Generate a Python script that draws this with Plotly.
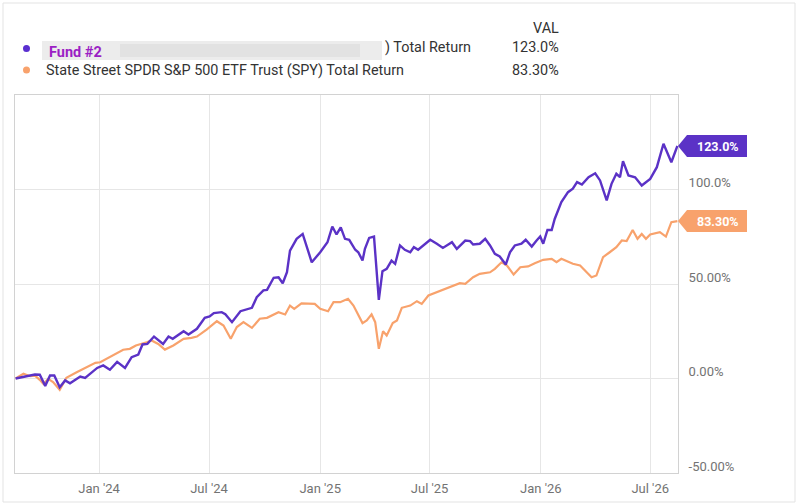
import plotly.graph_objects as go

# fund #2 total return (%)
fund_dates = [
    "2023-08-16", "2023-09-01", "2023-09-17", "2023-09-25", "2023-10-04", "2023-10-12",
    "2023-10-19", "2023-10-28", "2023-11-06", "2023-11-14", "2023-12-01", "2023-12-09",
    "2023-12-29", "2024-01-08", "2024-01-19", "2024-01-31", "2024-02-13", "2024-02-24",
    "2024-03-06", "2024-03-13", "2024-03-21", "2024-04-01", "2024-04-16", "2024-04-25",
    "2024-05-02", "2024-05-20", "2024-05-28", "2024-06-11", "2024-06-24", "2024-07-02",
    "2024-07-09", "2024-07-22", "2024-07-28", "2024-08-08", "2024-08-22", "2024-09-10",
    "2024-09-18", "2024-09-29", "2024-10-05", "2024-10-16", "2024-10-24", "2024-10-31",
    "2024-11-07", "2024-11-12", "2024-11-23", "2024-12-03", "2024-12-18", "2025-01-01",
    "2025-01-13", "2025-01-21", "2025-01-28", "2025-02-04", "2025-02-11", "2025-02-18",
    "2025-02-28", "2025-03-05", "2025-03-12", "2025-03-16", "2025-03-23", "2025-03-31",
    "2025-04-08", "2025-04-14", "2025-04-21", "2025-04-29", "2025-05-05", "2025-05-13",
    "2025-05-21", "2025-05-30", "2025-06-05", "2025-06-12", "2025-07-02", "2025-07-13",
    "2025-07-23", "2025-08-07", "2025-08-15", "2025-08-29", "2025-09-06", "2025-09-11",
    "2025-09-22", "2025-10-01", "2025-10-09", "2025-10-17", "2025-10-25", "2025-11-04",
    "2025-11-11", "2025-11-19", "2025-11-30", "2025-12-07", "2025-12-17", "2025-12-25",
    "2025-12-31", "2026-01-05", "2026-01-12", "2026-01-19", "2026-01-24", "2026-02-04",
    "2026-02-15", "2026-02-23", "2026-03-02", "2026-03-10", "2026-03-21", "2026-04-01",
    "2026-04-09", "2026-04-20", "2026-04-28", "2026-05-06", "2026-05-12", "2026-05-17",
    "2026-05-26", "2026-06-06", "2026-06-17", "2026-07-01", "2026-07-12", "2026-07-23",
    "2026-07-29", "2026-08-05", "2026-08-15",
]
fund_ret = [
    0.0, 1.2, 2.1, 2.0, -3.9, 1.6,
    1.6, -4.6, -1.0, -2.5, 1.0, 0.3,
    5.6, 6.9, 4.6, 8.8, 5.6, 11.3,
    12.7, 18.0, 18.3, 22.2, 18.3, 22.2,
    21.0, 25.0, 23.3, 26.3, 32.1, 32.8,
    34.6, 35.1, 34.0, 29.8, 35.6, 37.4,
    43.0, 46.6, 46.9, 53.3, 53.6, 50.4,
    56.2, 67.7, 73.9, 76.5, 61.5, 66.8,
    72.1, 80.4, 76.2, 80.0, 73.9, 73.4,
    68.1, 66.8, 62.4, 68.6, 74.4, 75.1,
    41.6, 56.8, 58.0, 62.4, 60.7, 70.4,
    68.1, 66.8, 69.5, 68.1, 73.4, 71.3,
    69.1, 72.1, 68.6, 73.0, 72.7, 70.9,
    71.3, 73.9, 70.4, 66.0, 64.6, 60.3,
    66.8, 70.4, 71.3, 73.4, 69.8, 73.0,
    75.1, 71.3, 78.6, 78.6, 84.4, 93.3,
    98.6, 100.4, 103.9, 102.6, 106.5, 108.6,
    104.8, 94.2, 103.0, 108.3, 106.5, 115.0,
    107.4, 106.5, 102.1, 105.6, 111.8, 124.2,
    119.2, 114.4, 123.0,
]

# SPY total return (%)
spy_dates = [
    "2023-08-16", "2023-08-29", "2023-09-09", "2023-09-17", "2023-09-25", "2023-10-01",
    "2023-10-09", "2023-10-17", "2023-10-28", "2023-11-08", "2023-11-25", "2023-12-12",
    "2023-12-26", "2024-01-03", "2024-01-14", "2024-01-30", "2024-02-10", "2024-02-21",
    "2024-03-02", "2024-03-20", "2024-03-28", "2024-04-08", "2024-04-19", "2024-05-03",
    "2024-05-20", "2024-06-02", "2024-06-11", "2024-06-27", "2024-07-14", "2024-07-25",
    "2024-08-06", "2024-08-16", "2024-08-27", "2024-09-10", "2024-09-23", "2024-10-05",
    "2024-10-24", "2024-11-04", "2024-11-12", "2024-11-19", "2024-12-01", "2024-12-23",
    "2025-01-01", "2025-01-14", "2025-01-23", "2025-02-03", "2025-02-16", "2025-02-25",
    "2025-03-12", "2025-03-19", "2025-03-27", "2025-04-02", "2025-04-08", "2025-04-15",
    "2025-04-21", "2025-05-01", "2025-05-08", "2025-05-16", "2025-05-30", "2025-06-10",
    "2025-06-18", "2025-06-29", "2025-07-13", "2025-07-23", "2025-08-04", "2025-08-20",
    "2025-08-29", "2025-09-11", "2025-09-22", "2025-10-09", "2025-10-17", "2025-10-28",
    "2025-11-06", "2025-11-17", "2025-11-28", "2025-12-11", "2025-12-22", "2026-01-05",
    "2026-01-19", "2026-01-27", "2026-02-04", "2026-02-13", "2026-02-23", "2026-03-07",
    "2026-03-18", "2026-03-26", "2026-04-03", "2026-04-14", "2026-04-25", "2026-05-06",
    "2026-05-15", "2026-05-23", "2026-06-02", "2026-06-10", "2026-06-17", "2026-06-24",
    "2026-07-01", "2026-07-17", "2026-07-27", "2026-08-05", "2026-08-15",
]
spy_ret = [
    0.0, 2.5, 1.2, 1.5, -0.7, -2.9,
    -0.2, -1.9, -6.0, 0.4, 3.3, 6.0,
    8.3, 8.6, 10.4, 13.0, 15.2, 15.7,
    17.5, 19.2, 20.1, 18.3, 15.3, 17.5,
    21.0, 21.5, 22.2, 25.9, 30.3, 28.0,
    21.0, 27.2, 29.8, 26.8, 31.6, 32.1,
    35.1, 33.9, 38.6, 36.9, 39.8, 39.5,
    36.9, 35.6, 40.4, 40.4, 42.2, 38.6,
    29.3, 30.7, 33.9, 29.8, 15.7, 25.0,
    22.8, 29.3, 30.7, 37.4, 38.6, 40.9,
    39.5, 43.9, 45.7, 46.9, 48.7, 50.4,
    50.1, 53.6, 55.4, 56.2, 58.0, 61.5,
    59.8, 55.0, 58.9, 59.3, 61.0, 62.8,
    63.3, 61.5, 63.3, 62.1, 60.7, 59.8,
    56.2, 53.6, 54.5, 64.2, 66.8, 69.5,
    73.0, 72.7, 78.6, 73.9, 76.5, 73.9,
    76.2, 77.4, 75.1, 82.7, 83.3,
]

y_ticks = [-50, 0, 50, 100]
y_ticktext = ["-50.00%", "0.00%", "50.00%", "100.0%"]

fund_label = "123.0%"
spy_label = "83.30%"

PURPLE = "#5b32c6"
ORANGE = "#f8a26c"

# page / plot geometry in pixels
W, H = 798, 504
L, R, T, B = 15, 120, 95, 31
pw = W - L - R
ph = H - T - B


def px(x):
    return (x - L) / pw


def py(y):
    return (H - B - y) / ph


fig = go.Figure()
fig.add_trace(go.Scatter(x=spy_dates, y=spy_ret, mode="lines",
                         line=dict(color=ORANGE, width=2.2), hoverinfo="skip"))
fig.add_trace(go.Scatter(x=fund_dates, y=fund_ret, mode="lines",
                         line=dict(color=PURPLE, width=2.4), hoverinfo="skip"))

shapes = []
annotations = []

# outer frame
shapes.append(dict(type="rect", xref="paper", yref="paper",
                   x0=px(3), x1=px(795), y0=py(502), y1=py(3),
                   line=dict(color="#e3e3e3", width=1), layer="below"))

# end tags on the right axis
half = 11 / (ph / 200)  # 11px in data units
notch = 9 / pw
tag_w = 69 / pw
for val, txt, col in [(fund_ret[-1], fund_label, PURPLE),
                      (spy_ret[-1], spy_label, ORANGE)]:
    path = (f"M 1,{val} L {1 + notch},{val + half} L {1 + tag_w},{val + half} "
            f"L {1 + tag_w},{val - half} L {1 + notch},{val - half} Z")
    shapes.append(dict(type="path", xref="paper", yref="y", path=path,
                       fillcolor=col, line=dict(width=0)))
    annotations.append(dict(xref="paper", yref="y", x=1 + (notch + tag_w) / 2 + 1 / pw,
                            y=val, text=f"<b>{txt}</b>", showarrow=False,
                            font=dict(color="white", size=12.5, family="Roboto"),
                            xanchor="center", yanchor="middle"))

# legend header
legend_font = dict(family="Roboto", size=14.4, color="#333333")
annotations.append(dict(xref="paper", yref="paper", x=px(561), y=py(28), text="VAL",
                        showarrow=False, xanchor="right", yanchor="middle", font=legend_font))

# row 1: fund #2 (name blurred in the original)
shapes.append(dict(type="circle", xref="paper", yref="paper",
                   x0=px(23), x1=px(30), y0=py(52), y1=py(45),
                   fillcolor="#5a2fd0", line=dict(width=0)))
shapes.append(dict(type="rect", xref="paper", yref="paper",
                   x0=px(42), x1=px(382), y0=py(60), y1=py(41),
                   fillcolor="#ececec", line=dict(width=0)))
shapes.append(dict(type="rect", xref="paper", yref="paper",
                   x0=px(120), x1=px(360), y0=py(57), y1=py(44),
                   fillcolor="#e2e2e2", line=dict(width=0)))
annotations.append(dict(xref="paper", yref="paper", x=px(47), y=py(52), text="<b>Fund #2</b>",
                        showarrow=False, xanchor="left", yanchor="middle",
                        font=dict(family="Roboto", size=14.5, color="#9b1fc4")))
annotations.append(dict(xref="paper", yref="paper", x=px(383), y=py(48), text=") Total Return",
                        showarrow=False, xanchor="left", yanchor="middle", font=legend_font))
annotations.append(dict(xref="paper", yref="paper", x=px(561), y=py(48), text=fund_label,
                        showarrow=False, xanchor="right", yanchor="middle", font=legend_font))

# row 2: SPY
shapes.append(dict(type="circle", xref="paper", yref="paper",
                   x0=px(23), x1=px(30), y0=py(73.5), y1=py(66.5),
                   fillcolor=ORANGE, line=dict(width=0)))
annotations.append(dict(xref="paper", yref="paper", x=px(44), y=py(70),
                        text="State Street SPDR S&P 500 ETF Trust (SPY) Total Return",
                        showarrow=False, xanchor="left", yanchor="middle", font=legend_font))
annotations.append(dict(xref="paper", yref="paper", x=px(561), y=py(70), text=spy_label,
                        showarrow=False, xanchor="right", yanchor="middle", font=legend_font))

fig.update_layout(
    width=W, height=H,
    margin=dict(l=L, r=R, t=T, b=B, autoexpand=False),
    paper_bgcolor="white", plot_bgcolor="white",
    showlegend=False,
    font=dict(family="Roboto", color="#707070"),
    shapes=shapes,
    annotations=annotations,
    xaxis=dict(
        type="date",
        range=["2023-08-15", "2026-08-16"],
        tick0="2024-01-01", dtick="M6", tickformat="%b '%y",
        showgrid=True, gridcolor="#e6e6e6", gridwidth=1,
        showline=True, linecolor="#d2d2d2", linewidth=1, mirror=True,
        ticks="", tickfont=dict(size=13, color="#737373"),
        ticklabelstandoff=3, automargin=False,
        zeroline=False,
    ),
    yaxis=dict(
        side="right",
        range=[-50, 150],
        tickvals=y_ticks, ticktext=y_ticktext,
        showgrid=True, gridcolor="#e6e6e6", gridwidth=1,
        showline=True, linecolor="#d2d2d2", linewidth=1, mirror=True,
        ticks="", tickfont=dict(size=13, color="#737373"),
        ticklabelshift=-7, ticklabelstandoff=7, automargin=False,
        zeroline=False,
    ),
)

# drop the page's default body margin so the figure sits at the window origin
fig.write_html("out.html", config={"displayModeBar": False},
               post_script="document.body.style.margin='0px';")
